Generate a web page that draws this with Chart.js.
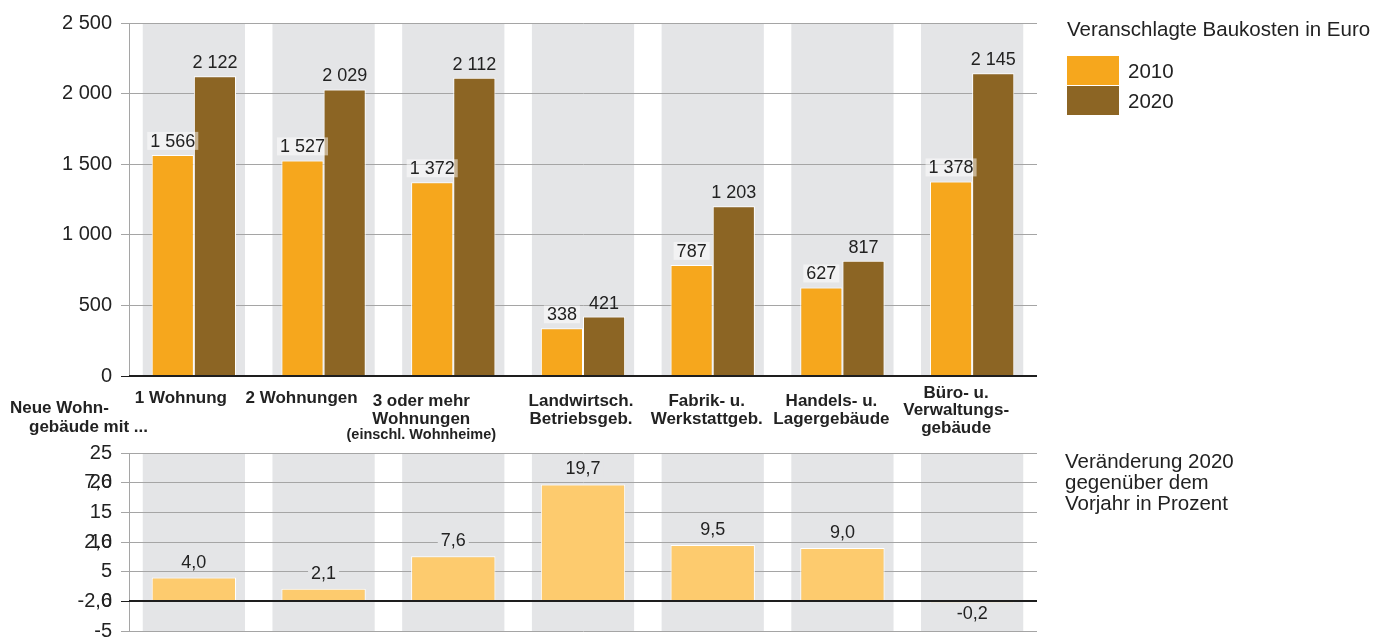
<!DOCTYPE html>
<html>
<head>
<meta charset="utf-8">
<script src="https://cdn.jsdelivr.net/npm/chart.js@4/dist/chart.umd.min.js"></script>
<style>
  html, body { margin: 0; padding: 0; background: #fff; }
  #wrap { position: relative; width: 1386px; height: 637px; overflow: hidden; background: #fff; }
  #top { position: absolute; left: 0; top: 0; }
  #bot { position: absolute; left: 0; top: 429px; }
</style>
</head>
<body>
<div id="wrap">
  <canvas id="top" width="1386" height="445"></canvas>
  <canvas id="bot" width="1386" height="226"></canvas>
</div>
<script>
// ---------- data ----------
const categories = [
  ['1 Wohnung'],
  ['2 Wohnungen'],
  ['3 oder mehr', 'Wohnungen'],
  ['Landwirtsch.', 'Betriebsgeb.'],
  ['Fabrik- u.', 'Werkstattgeb.'],
  ['Handels- u.', 'Lagergebäude'],
  ['Büro- u.', 'Verwaltungs-', 'gebäude']
];
const categoryNotes = ['', '', '(einschl. Wohnheime)', '', '', '', ''];
const seriesLabels = ['2010', '2020'];
const costs2010 = [1566, 1527, 1372, 338, 787, 627, 1378];
const costs2020 = [2122, 2029, 2112, 421, 1203, 817, 2145];
const changePct = [4.0, 2.1, 7.6, 19.7, 9.5, 9.0, -0.2];
const costTickStep = 500;
const costMax = 2500;
const changeTickStep = 5;
const changeMin = -5;
const changeMax = 25;
const strayTickValues = [0, 10, 20];
const strayTickTexts = ['-2,6', '2,6', '7,6'];
const axisCaption = ['Neue Wohn-', 'gebäude mit ...'];
const legendTitle = 'Veranschlagte Baukosten in Euro';
const changeCaption = ['Veränderung 2020', 'gegenüber dem', 'Vorjahr in Prozent'];

// ---------- style / layout ----------
const FONT = '"Liberation Sans", Arial, Helvetica, sans-serif';
const TEXT = '#222222';
const GRID = '#a5a5a5';
const BAND = '#e4e5e7';
const COL_2010 = '#f6a71d';
const COL_2020 = '#8c6524';
const COL_CHG = '#fdcb6e';
const labelShift = [-13, -22, -32, -2, -6, -11, -16];
const AXIS_W = 129;
const RIGHT_PAD = 349;

const fmtInt = v => String(Math.round(v)).replace(/\B(?=(\d{3})+(?!\d))/g, ' ');
const fmtDec = v => v.toFixed(1).replace('.', ',');

const bands = {
  id: 'bands',
  beforeDraw(chart) {
    const { ctx, chartArea: a, scales: { x } } = chart;
    const step = x.getPixelForValue(1) - x.getPixelForValue(0);
    ctx.save();
    ctx.fillStyle = BAND;
    chart.data.labels.forEach((_, i) => {
      const c = x.getPixelForValue(i);
      ctx.fillRect(c - step * 0.394, a.top, step * 0.788, a.bottom - a.top);
    });
    ctx.restore();
  }
};

const zeroLine = {
  id: 'zeroLine',
  afterDatasetsDraw(chart) {
    const { ctx, chartArea: a, scales: { y } } = chart;
    const py = Math.round(y.getPixelForValue(0));
    ctx.save();
    ctx.strokeStyle = '#1e1e1e';
    ctx.lineWidth = 2;
    ctx.beginPath();
    ctx.moveTo(a.left, py);
    ctx.lineTo(a.right, py);
    ctx.stroke();
    ctx.restore();
  }
};

function valueLabels(fmt, gapAbove, gapBelow, boxFills) {
  return {
    id: 'valueLabels',
    afterDatasetsDraw(chart) {
      const ctx = chart.ctx;
      ctx.save();
      ctx.font = '18px ' + FONT;
      ctx.textAlign = 'center';
      ctx.textBaseline = 'middle';
      chart.data.datasets.forEach((ds, di) => {
        const meta = chart.getDatasetMeta(di);
        meta.data.forEach((el, i) => {
          const v = ds.data[i];
          const t = fmt(v);
          const y = v >= 0 ? el.y - gapAbove : el.y + gapBelow;
          const w = ctx.measureText(t).width;
          if (boxFills[di]) {
            ctx.fillStyle = boxFills[di];
            ctx.fillRect(el.x - w / 2 - 3, y - 9, w + 6, 18);
          }
          ctx.fillStyle = TEXT;
          ctx.fillText(t, el.x, y + 1);
        });
      });
      ctx.restore();
    }
  };
}

const topDecor = {
  id: 'topDecor',
  afterDraw(chart) {
    const { ctx, chartArea: a, scales: { x } } = chart;
    ctx.save();
    ctx.fillStyle = TEXT;
    ctx.textBaseline = 'alphabetic';
    ctx.textAlign = 'center';
    chart.data.labels.forEach((lines, i) => {
      const cx = x.getPixelForValue(i) + labelShift[i];
      const n = lines.length;
      const base = n === 1 ? a.bottom + 27 : a.bottom + 39 - (n - 1) * 8.75;
      ctx.font = 'bold 17px ' + FONT;
      lines.forEach((ln, k) => ctx.fillText(ln, cx, base + k * 17.5));
      if (categoryNotes[i]) {
        ctx.font = 'bold 14.5px ' + FONT;
        ctx.fillText(categoryNotes[i], cx, base + (n - 1) * 17.5 + 15);
      }
    });
    ctx.textAlign = 'left';
    ctx.font = 'bold 17px ' + FONT;
    ctx.fillText(axisCaption[0], 10, a.bottom + 37);
    ctx.fillText(axisCaption[1], 29, a.bottom + 56);
    // legend
    const lx = a.right + 30;
    ctx.font = '20.5px ' + FONT;
    ctx.fillText(legendTitle, lx, 36);
    chart.data.datasets.forEach((ds, i) => {
      ctx.fillStyle = ds.backgroundColor;
      ctx.fillRect(lx, 56 + i * 30, 52, 29);
      ctx.fillStyle = TEXT;
      ctx.fillText(ds.label, lx + 61, 78 + i * 30);
    });
    ctx.restore();
  }
};

const botDecor = {
  id: 'botDecor',
  afterDraw(chart) {
    const { ctx, chartArea: a, scales: { y } } = chart;
    ctx.save();
    ctx.fillStyle = TEXT;
    ctx.font = '20px ' + FONT;
    ctx.textAlign = 'right';
    ctx.textBaseline = 'middle';
    strayTickValues.forEach((v, i) => {
      ctx.fillText(strayTickTexts[i], a.left - 17, y.getPixelForValue(v));
    });
    ctx.textAlign = 'left';
    ctx.textBaseline = 'alphabetic';
    ctx.font = '20.5px ' + FONT;
    changeCaption.forEach((ln, i) => ctx.fillText(ln, a.right + 28, a.top + 15 + i * 21));
    ctx.restore();
  }
};

const yTickFont = { family: FONT, size: 20 };
const gridColor = c => (c.tick && c.tick.value === 0 ? '#1e1e1e' : GRID);

// ---------- top chart ----------
new Chart(document.getElementById('top'), {
  type: 'bar',
  data: {
    labels: categories,
    datasets: [
      { label: seriesLabels[0], data: costs2010, backgroundColor: COL_2010, borderColor: '#ffffff', borderWidth: 1,
        categoryPercentage: 0.65, barPercentage: 1.0 },
      { label: seriesLabels[1], data: costs2020, backgroundColor: COL_2020, borderColor: '#ffffff', borderWidth: 1,
        categoryPercentage: 0.65, barPercentage: 1.0 }
    ]
  },
  options: {
    responsive: false,
    animation: false,
    layout: { padding: { left: 0, right: RIGHT_PAD, top: 23, bottom: 0 } },
    plugins: { legend: { display: false }, tooltip: { enabled: false } },
    scales: {
      x: {
        ticks: { display: false },
        grid: { display: false },
        border: { display: false },
        afterFit(s) { s.height = 69; }
      },
      y: {
        min: 0, max: costMax,
        ticks: { stepSize: costTickStep, color: TEXT, font: yTickFont, padding: 9, callback: v => fmtInt(v) },
        grid: { color: gridColor, lineWidth: 1, tickLength: 8 },
        border: { display: true, color: GRID, width: 1 },
        afterFit(s) { s.width = AXIS_W; }
      }
    }
  },
  plugins: [bands, zeroLine, valueLabels(fmtInt, 14, 12, ['rgba(255,255,255,0.5)', null]), topDecor]
});

// ---------- bottom chart ----------
new Chart(document.getElementById('bot'), {
  type: 'bar',
  data: {
    labels: categories,
    datasets: [
      { label: 'Veränderung', data: changePct, backgroundColor: COL_CHG, borderColor: '#ffffff', borderWidth: 1,
        categoryPercentage: 0.65, barPercentage: 1.0 }
    ]
  },
  options: {
    responsive: false,
    animation: false,
    layout: { padding: { left: 0, right: RIGHT_PAD, top: 24, bottom: 24 } },
    plugins: { legend: { display: false }, tooltip: { enabled: false } },
    scales: {
      x: { display: false },
      y: {
        min: changeMin, max: changeMax,
        ticks: { stepSize: changeTickStep, color: TEXT, font: yTickFont, padding: 9, callback: v => String(v) },
        grid: { color: gridColor, lineWidth: 1, tickLength: 8 },
        border: { display: true, color: GRID, width: 1 },
        afterFit(s) { s.width = AXIS_W; }
      }
    }
  },
  plugins: [bands, zeroLine, valueLabels(fmtDec, 16, 11, [BAND]), botDecor]
});
</script>
</body>
</html>
